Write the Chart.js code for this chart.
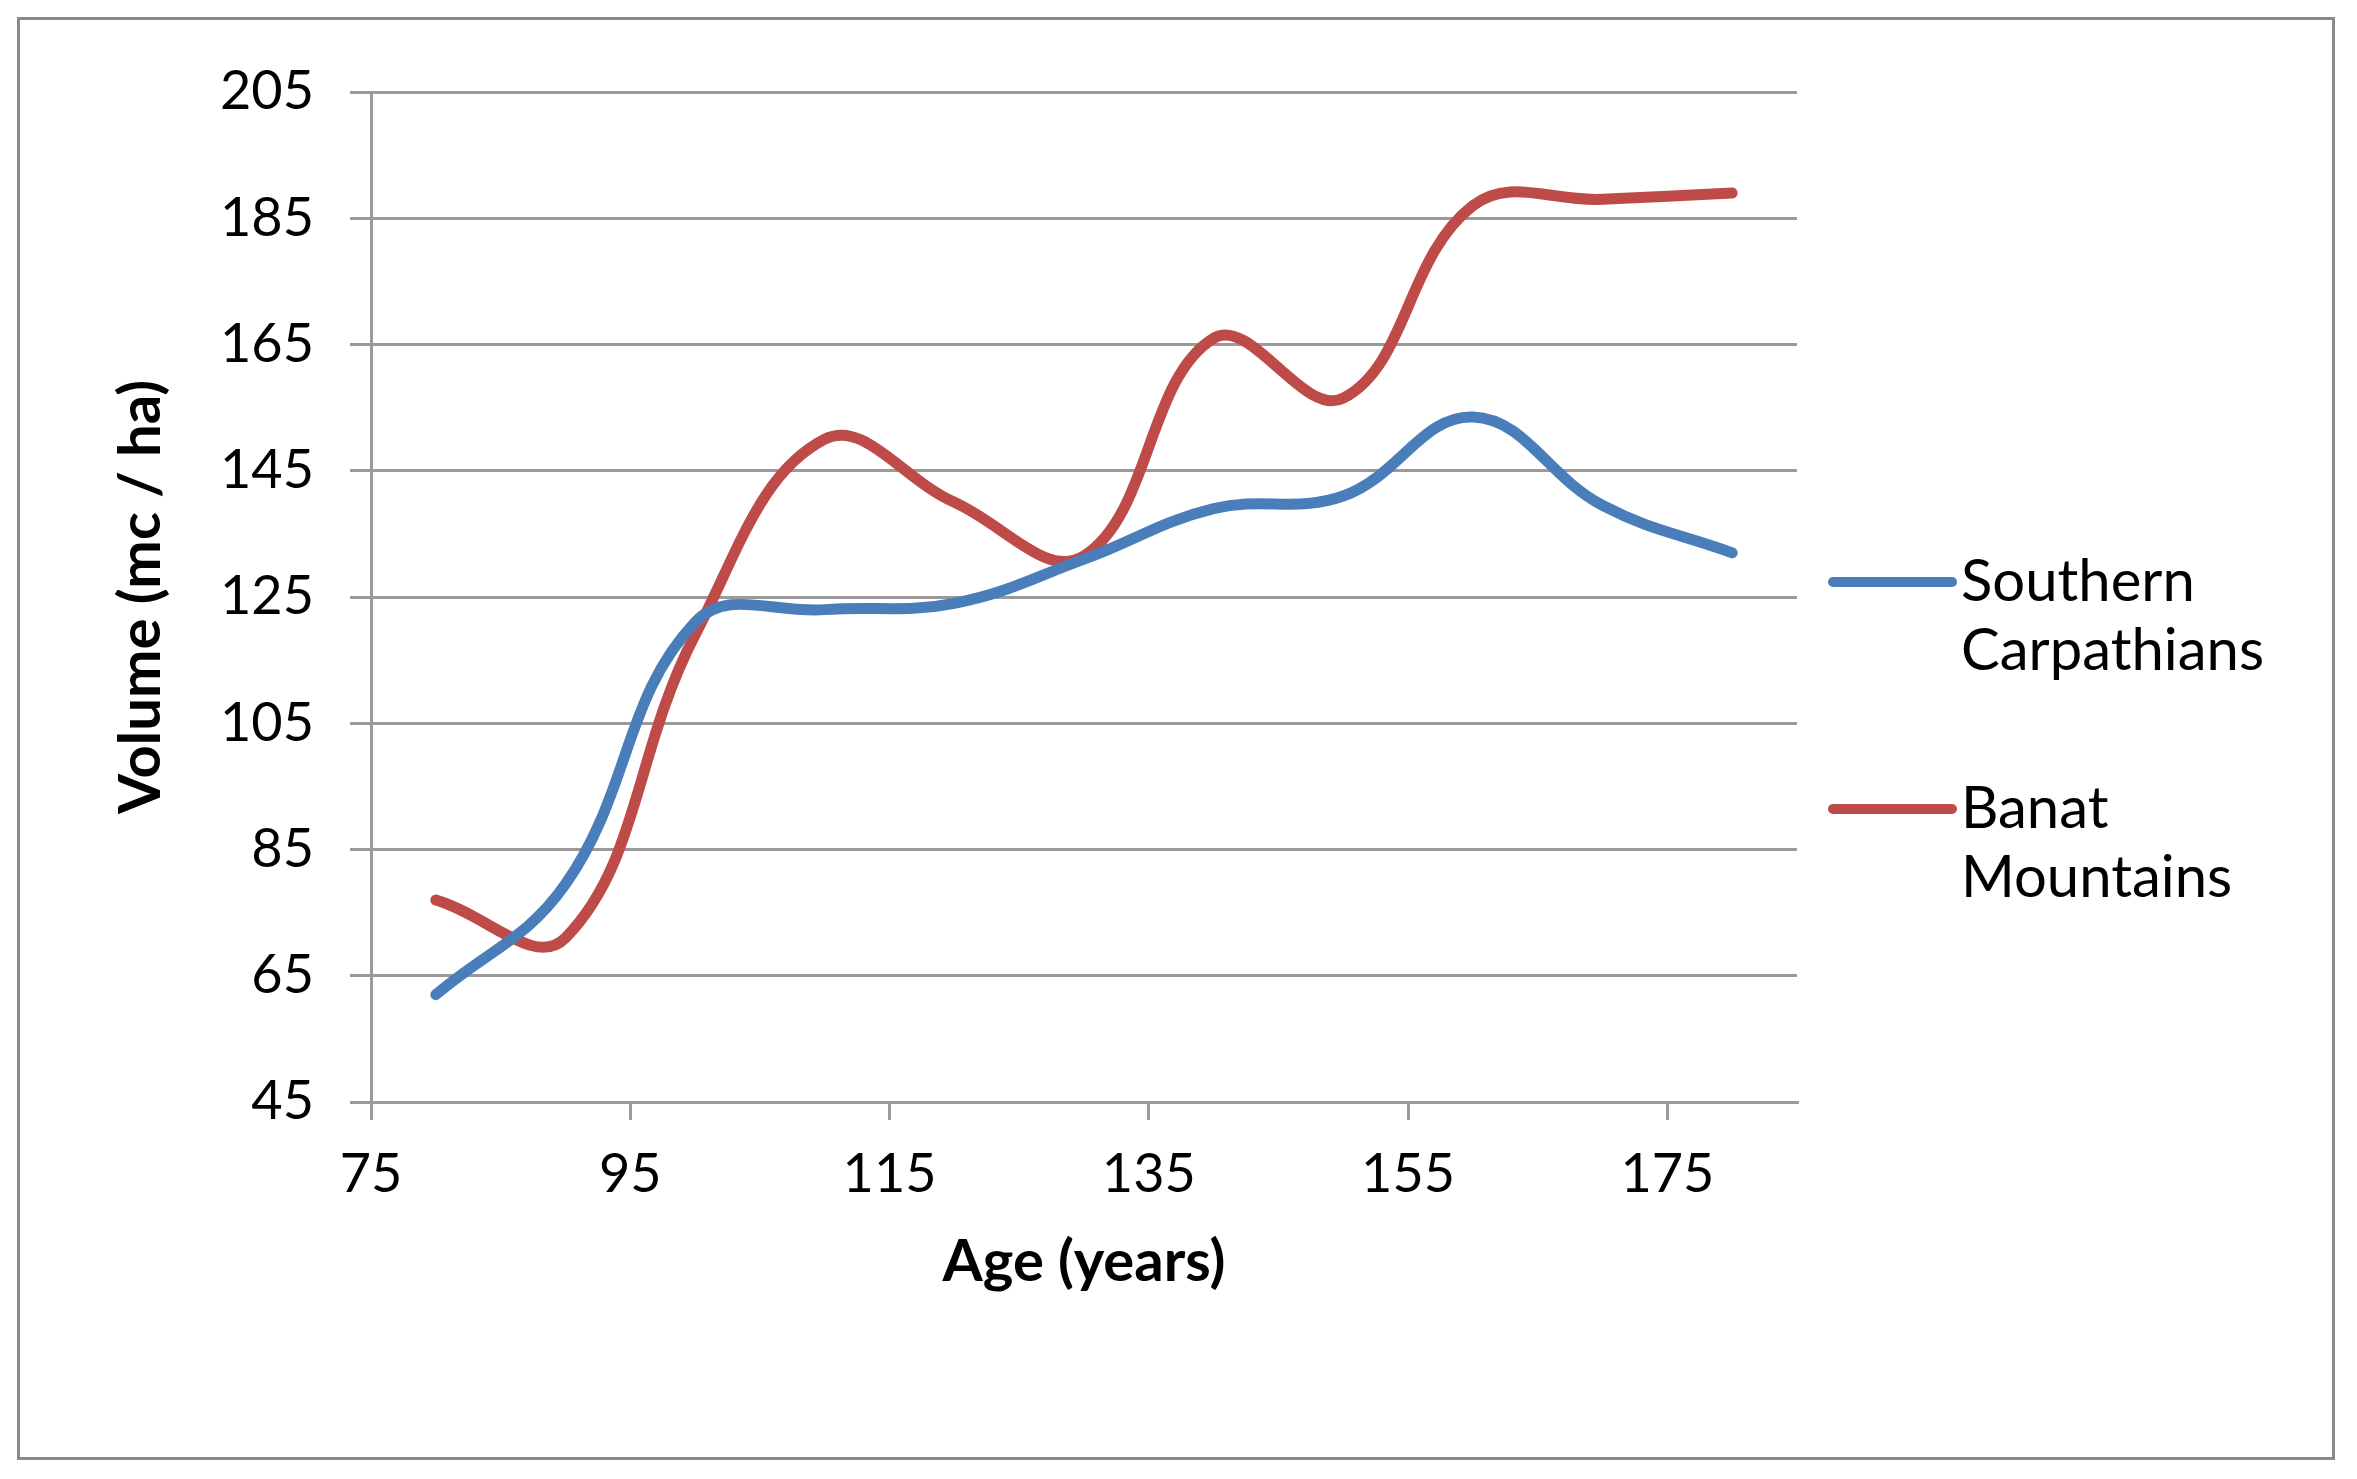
<!DOCTYPE html>
<html>
<head>
<meta charset="utf-8">
<script src="https://cdn.jsdelivr.net/npm/chart.js@4"></script>
<style>
  html, body { margin: 0; padding: 0; background: #fff; }
  #frame {
    position: absolute; left: 17px; top: 17px;
    width: 2312px; height: 1437px;
    border: 3px solid #8a8a8a;
  }
  #wrap { position: absolute; left: 0; top: 0; width: 2357px; height: 1479px; }
</style>
</head>
<body>
<div id="frame"></div>
<div id="wrap"><canvas id="volumeChart" width="2357" height="1479"></canvas></div>
<script>
// ages in years, volume in mc / ha
const ages = [80, 90, 100, 110, 120, 130, 140, 150, 160, 170, 180];
const southernCarpathians = [62, 79.5, 121, 123, 124, 131, 139, 141, 153.5, 139.5, 132];
const banatMountains = [77, 71, 119, 150, 140, 131.5, 166, 156.5, 187, 188, 189];

const xTicks = [75, 95, 115, 135, 155, 175];
const yTicks = [45, 65, 85, 105, 125, 145, 165, 185, 205];

const seriesNames = [['Southern', 'Carpathians'], ['Banat', 'Mountains']];
const seriesColors = ['#4a7ebb', '#be4b48'];

const FONT = 'Lato, "Open Sans", sans-serif';
const GRID = '#9a9a9a';

function toPoints(values) {
    return ages.map((a, i) => ({ x: a, y: values[i] }));
}

// legend on the right, two lines per entry
const sideLegend = {
    id: 'sideLegend',
    afterDraw(chart) {
        const ctx = chart.ctx;
        const area = chart.chartArea;
        const rows = [490, 717];
        ctx.save();
        ctx.font = '58px ' + FONT;
        ctx.textBaseline = 'middle';
        ctx.textAlign = 'left';
        seriesNames.forEach((lines, i) => {
            const y = area.top + rows[i];
            ctx.strokeStyle = seriesColors[i];
            ctx.lineWidth = 10;
            ctx.lineCap = 'round';
            ctx.beginPath();
            ctx.moveTo(area.right + 36, y);
            ctx.lineTo(area.right + 155, y);
            ctx.stroke();
            ctx.fillStyle = '#000';
            lines.forEach((t, j) => ctx.fillText(t, area.right + 164, y + j * 69));
        });
        ctx.restore();
    }
};

const ctx = document.getElementById('volumeChart').getContext('2d');

const chart = new Chart(ctx, {
    type: 'line',
    data: {
        datasets: [
            {
                label: 'Southern Carpathians',
                data: toPoints(southernCarpathians),
                borderColor: seriesColors[0],
                borderWidth: 11,
                borderCapStyle: 'round',
                pointRadius: 0,
                tension: 0.4
            },
            {
                label: 'Banat Mountains',
                data: toPoints(banatMountains),
                borderColor: seriesColors[1],
                borderWidth: 11,
                borderCapStyle: 'round',
                pointRadius: 0,
                tension: 0.4
            }
        ]
    },
    options: {
        responsive: false,
        animation: false,
        layout: { padding: { left: 0, top: 92, right: 560, bottom: 0 } },
        plugins: {
            legend: { display: false },
            tooltip: { enabled: false }
        },
        scales: {
            x: {
                type: 'linear',
                min: 75,
                max: 185,
                afterBuildTicks: s => { s.ticks = xTicks.map(v => ({ value: v })); },
                afterFit: s => { s.height = 377; },
                grid: { drawOnChartArea: false, drawTicks: true, tickLength: 18, color: GRID, lineWidth: 3 },
                border: { display: true, color: GRID, width: 3 },
                ticks: { color: '#000', font: { family: FONT, size: 54 }, padding: 22, maxRotation: 0 },
                title: {
                    display: true,
                    text: 'Age (years)',
                    color: '#000',
                    font: { family: FONT, size: 58, weight: 'bold' },
                    padding: { top: 0, bottom: 182 }
                }
            },
            y: {
                min: 45,
                max: 205,
                afterBuildTicks: s => { s.ticks = yTicks.map(v => ({ value: v })); },
                afterFit: s => { s.width = 371; },
                grid: { color: GRID, lineWidth: 3, tickLength: 21 },
                border: { display: true, color: GRID, width: 3 },
                ticks: { color: '#000', font: { family: FONT, size: 54 }, padding: 36 },
                title: {
                    display: true,
                    text: 'Volume (mc / ha)',
                    color: '#000',
                    font: { family: FONT, size: 58, weight: 'bold' },
                    padding: { top: 106, bottom: 0 }
                }
            }
        }
    },
    plugins: [sideLegend]
});
</script>
</body>
</html>
